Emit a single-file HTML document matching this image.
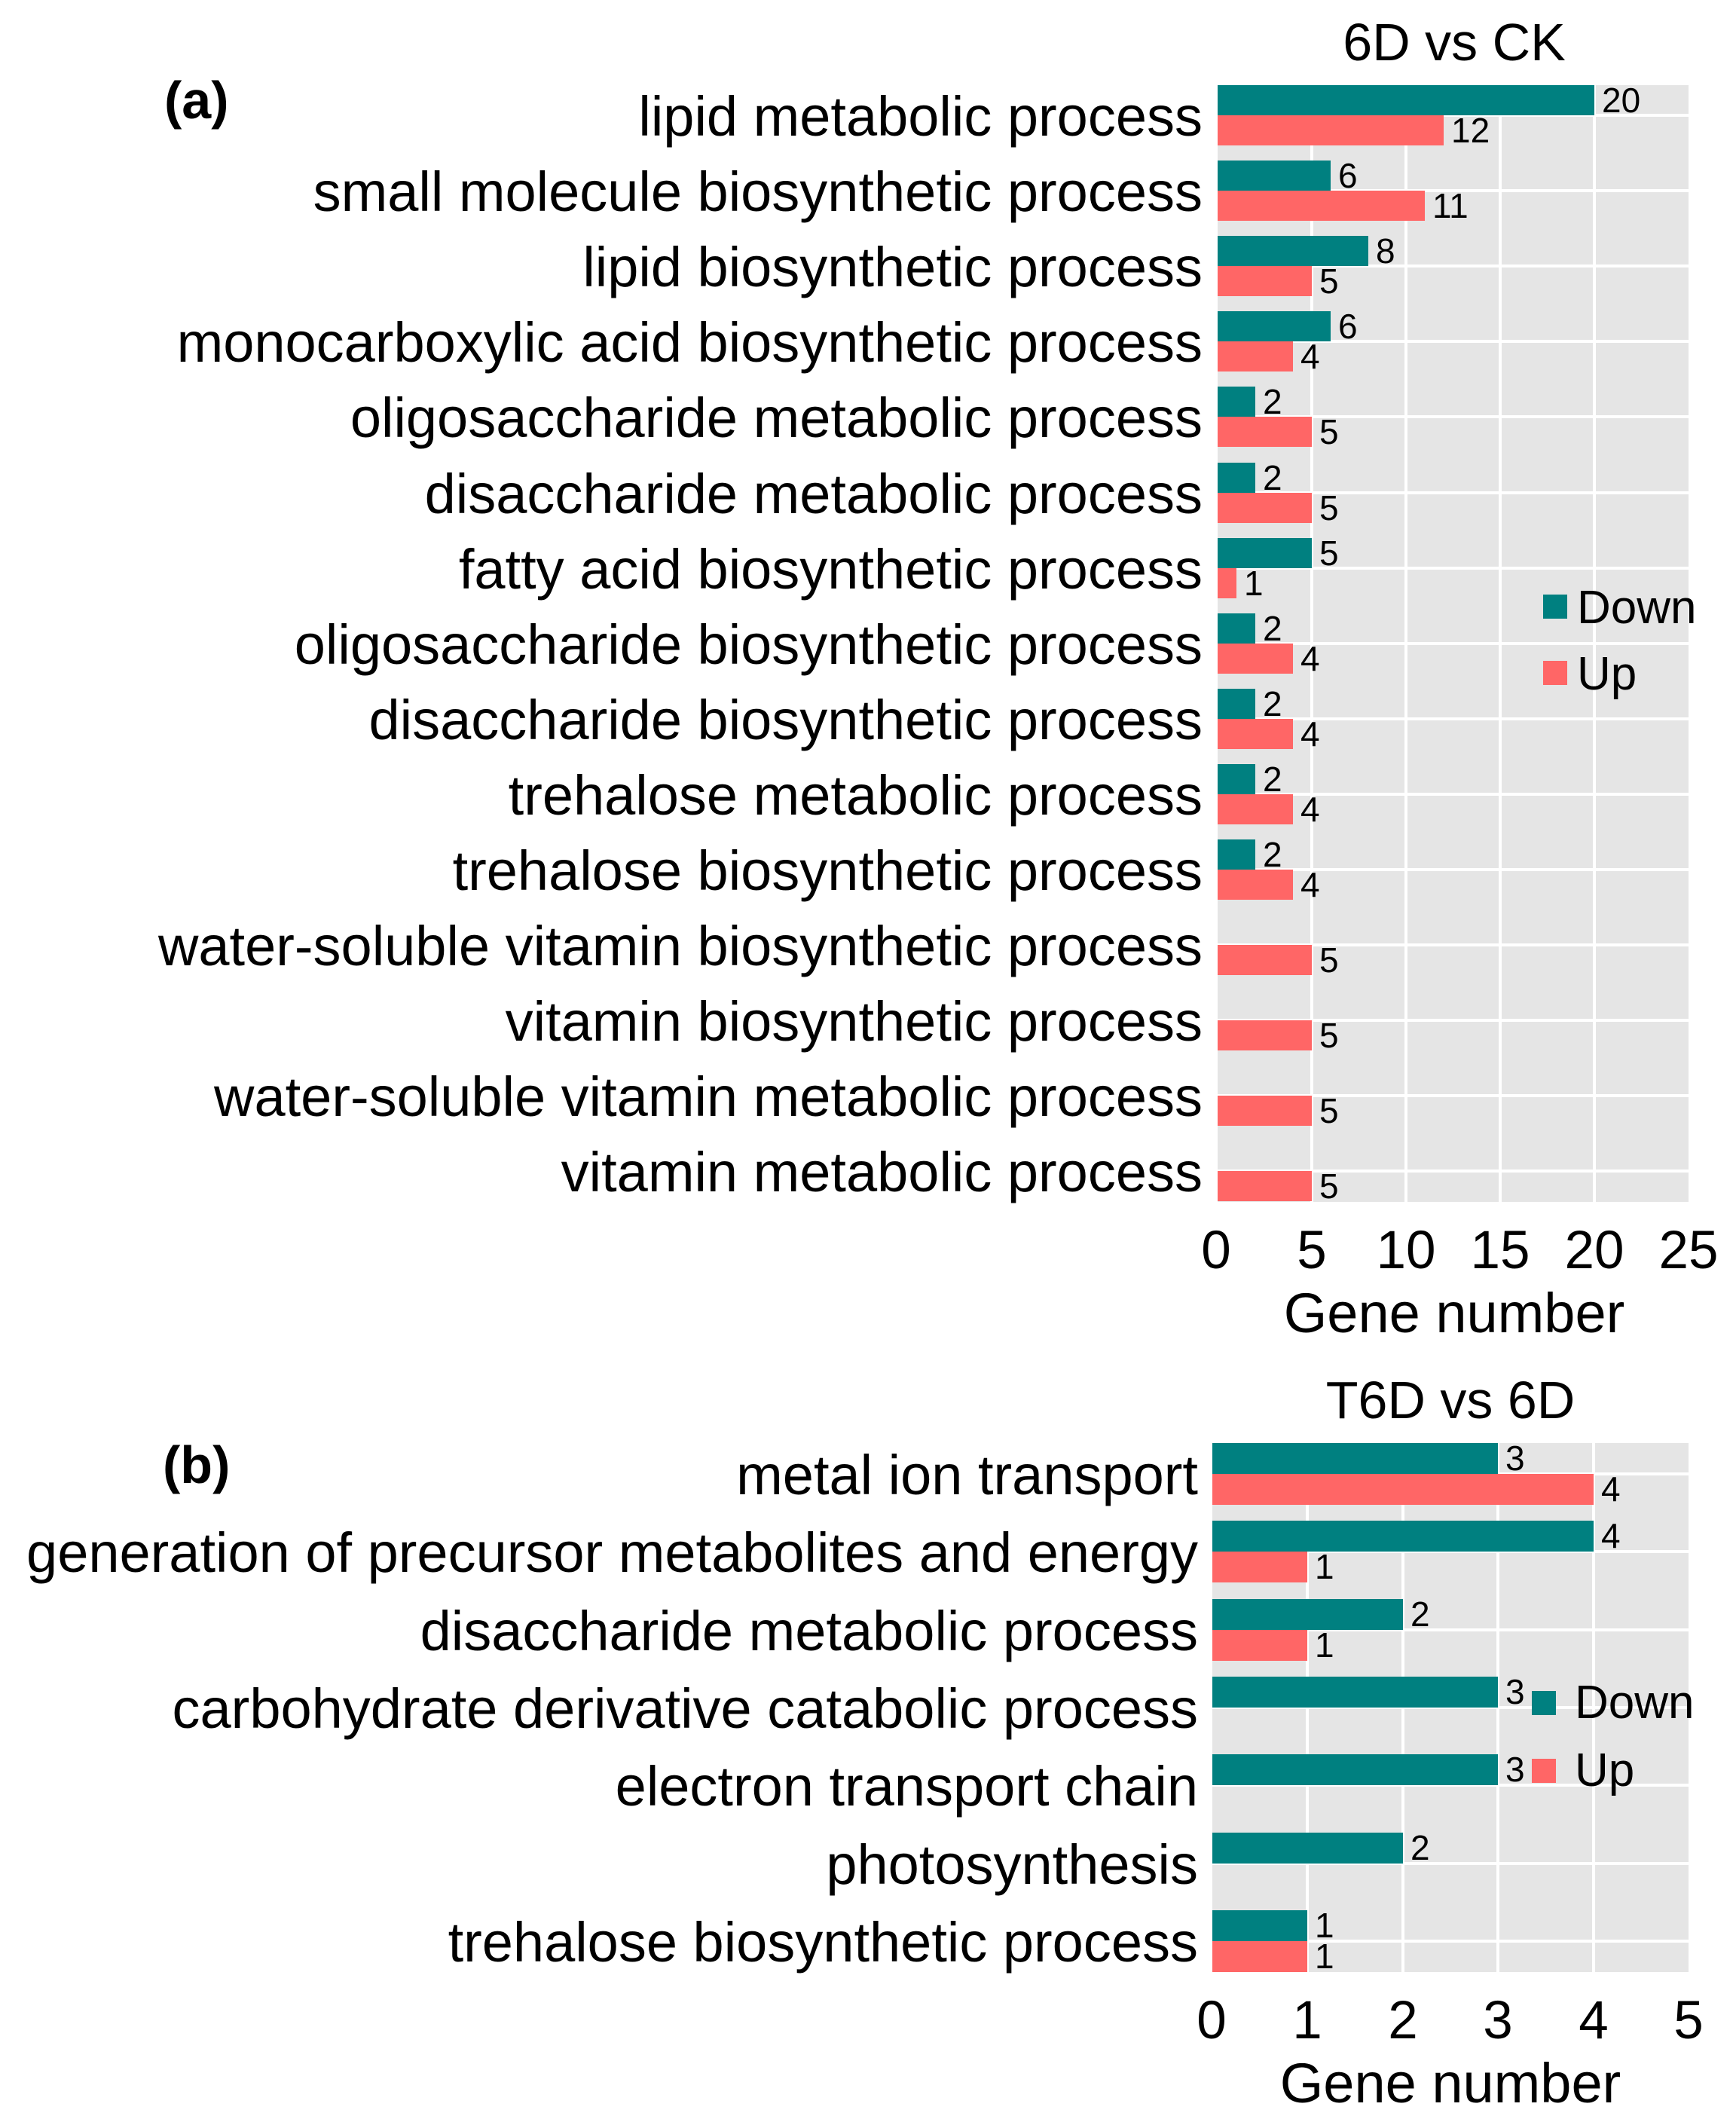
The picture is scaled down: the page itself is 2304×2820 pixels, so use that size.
<!DOCTYPE html>
<html><head><meta charset="utf-8"><style>html,body{margin:0;padding:0;background:#fff}svg{display:block}</style></head>
<body>
<svg width="2304" height="2820" viewBox="0 0 2304 2820" xmlns="http://www.w3.org/2000/svg" font-family="Liberation Sans, Arial, sans-serif">
<!-- Panel a -->
<rect x="1616" y="113" width="625" height="1482" fill="#e5e5e5"/>
<g stroke="#fff" stroke-width="4">
<line x1="1741" y1="113" x2="1741" y2="1595"/><line x1="1866" y1="113" x2="1866" y2="1595"/><line x1="1991" y1="113" x2="1991" y2="1595"/><line x1="2116" y1="113" x2="2116" y2="1595"/>
<line x1="1616" x2="2241" y1="153" y2="153"/><line x1="1616" x2="2241" y1="253" y2="253"/><line x1="1616" x2="2241" y1="353" y2="353"/><line x1="1616" x2="2241" y1="453" y2="453"/><line x1="1616" x2="2241" y1="553" y2="553"/><line x1="1616" x2="2241" y1="654" y2="654"/><line x1="1616" x2="2241" y1="754" y2="754"/><line x1="1616" x2="2241" y1="854" y2="854"/><line x1="1616" x2="2241" y1="954" y2="954"/><line x1="1616" x2="2241" y1="1054" y2="1054"/><line x1="1616" x2="2241" y1="1154" y2="1154"/><line x1="1616" x2="2241" y1="1254" y2="1254"/><line x1="1616" x2="2241" y1="1354" y2="1354"/><line x1="1616" x2="2241" y1="1454" y2="1454"/><line x1="1616" x2="2241" y1="1554" y2="1554"/>
</g>
<g fill="#008080">
<rect x="1616" y="113" width="500" height="40"/>
<rect x="1616" y="213" width="150" height="40"/>
<rect x="1616" y="313" width="200" height="40"/>
<rect x="1616" y="413" width="150" height="40"/>
<rect x="1616" y="513" width="50" height="40"/>
<rect x="1616" y="614" width="50" height="40"/>
<rect x="1616" y="714" width="125" height="40"/>
<rect x="1616" y="814" width="50" height="40"/>
<rect x="1616" y="914" width="50" height="40"/>
<rect x="1616" y="1014" width="50" height="40"/>
<rect x="1616" y="1114" width="50" height="40"/>
</g>
<g fill="#ff6666">
<rect x="1616" y="153" width="300" height="40"/>
<rect x="1616" y="253" width="275" height="40"/>
<rect x="1616" y="353" width="125" height="40"/>
<rect x="1616" y="453" width="100" height="40"/>
<rect x="1616" y="553" width="125" height="40"/>
<rect x="1616" y="654" width="125" height="40"/>
<rect x="1616" y="754" width="25" height="40"/>
<rect x="1616" y="854" width="100" height="40"/>
<rect x="1616" y="954" width="100" height="40"/>
<rect x="1616" y="1054" width="100" height="40"/>
<rect x="1616" y="1154" width="100" height="40"/>
<rect x="1616" y="1254" width="125" height="40"/>
<rect x="1616" y="1354" width="125" height="40"/>
<rect x="1616" y="1454" width="125" height="40"/>
<rect x="1616" y="1554" width="125" height="40"/>
</g>
<g font-size="46" fill="#000" dominant-baseline="central">
<text x="2126" y="133">20</text><text x="1926" y="173">12</text>
<text x="1776" y="233">6</text><text x="1901" y="273">11</text>
<text x="1826" y="333">8</text><text x="1751" y="373">5</text>
<text x="1776" y="433">6</text><text x="1726" y="473">4</text>
<text x="1676" y="533">2</text><text x="1751" y="573">5</text>
<text x="1676" y="634">2</text><text x="1751" y="674">5</text>
<text x="1751" y="734">5</text><text x="1651" y="774">1</text>
<text x="1676" y="834">2</text><text x="1726" y="874">4</text>
<text x="1676" y="934">2</text><text x="1726" y="974">4</text>
<text x="1676" y="1034">2</text><text x="1726" y="1074">4</text>
<text x="1676" y="1134">2</text><text x="1726" y="1174">4</text>
<text x="1751" y="1274">5</text><text x="1751" y="1374">5</text><text x="1751" y="1474">5</text><text x="1751" y="1574">5</text>
</g>
<g font-size="74" text-anchor="end" fill="#000">
<text x="1596" y="180">lipid metabolic process</text>
<text x="1596" y="280">small molecule biosynthetic process</text>
<text x="1596" y="380">lipid biosynthetic process</text>
<text x="1596" y="480">monocarboxylic acid biosynthetic process</text>
<text x="1596" y="580">oligosaccharide metabolic process</text>
<text x="1596" y="681">disaccharide metabolic process</text>
<text x="1596" y="781">fatty acid biosynthetic process</text>
<text x="1596" y="881">oligosaccharide biosynthetic process</text>
<text x="1596" y="981">disaccharide biosynthetic process</text>
<text x="1596" y="1081">trehalose metabolic process</text>
<text x="1596" y="1181">trehalose biosynthetic process</text>
<text x="1596" y="1281">water-soluble vitamin biosynthetic process</text>
<text x="1596" y="1381">vitamin biosynthetic process</text>
<text x="1596" y="1481">water-soluble vitamin metabolic process</text>
<text x="1596" y="1581">vitamin metabolic process</text>
</g>
<g font-size="71" text-anchor="middle" fill="#000">
<text x="1614" y="1683">0</text><text x="1741" y="1683">5</text><text x="1866" y="1683">10</text><text x="1991" y="1683">15</text><text x="2116" y="1683">20</text><text x="2241" y="1683">25</text>
</g>
<text x="1930" y="1768" font-size="74" text-anchor="middle">Gene number</text>
<text x="1930" y="80" font-size="70" text-anchor="middle">6D vs CK</text>
<rect x="2048" y="789" width="32" height="32" fill="#008080"/>
<rect x="2048" y="877" width="32" height="32" fill="#ff6666"/>
<text x="2093" y="827" font-size="62">Down</text>
<text x="2093" y="915" font-size="62">Up</text>
<text x="218" y="157" font-size="70" font-weight="bold">(a)</text>

<!-- Panel b -->
<rect x="1609" y="1915" width="632" height="702" fill="#e5e5e5"/>
<g stroke="#fff" stroke-width="4">
<line x1="1735" y1="1915" x2="1735" y2="2617"/><line x1="1862" y1="1915" x2="1862" y2="2617"/><line x1="1988" y1="1915" x2="1988" y2="2617"/><line x1="2115" y1="1915" x2="2115" y2="2617"/>
<line x1="1609" x2="2241" y1="1956" y2="1956"/><line x1="1609" x2="2241" y1="2059" y2="2059"/><line x1="1609" x2="2241" y1="2163" y2="2163"/><line x1="1609" x2="2241" y1="2266" y2="2266"/><line x1="1609" x2="2241" y1="2369" y2="2369"/><line x1="1609" x2="2241" y1="2473" y2="2473"/><line x1="1609" x2="2241" y1="2576" y2="2576"/>
</g>
<g fill="#008080">
<rect x="1609" y="1915" width="379" height="41"/>
<rect x="1609" y="2018" width="506" height="41"/>
<rect x="1609" y="2122" width="253" height="41"/>
<rect x="1609" y="2225" width="379" height="41"/>
<rect x="1609" y="2328" width="379" height="41"/>
<rect x="1609" y="2432" width="253" height="41"/>
<rect x="1609" y="2535" width="126" height="41"/>
</g>
<g fill="#ff6666">
<rect x="1609" y="1956" width="506" height="41"/>
<rect x="1609" y="2059" width="126" height="41"/>
<rect x="1609" y="2163" width="126" height="41"/>
<rect x="1609" y="2576" width="126" height="41"/>
</g>
<g font-size="46" fill="#000" dominant-baseline="central">
<text x="1998" y="1935">3</text><text x="2125" y="1976">4</text>
<text x="2125" y="2038">4</text><text x="1745" y="2079">1</text>
<text x="1872" y="2142">2</text><text x="1745" y="2183">1</text>
<text x="1998" y="2245">3</text>
<text x="1998" y="2348">3</text>
<text x="1872" y="2452">2</text>
<text x="1745" y="2555">1</text><text x="1745" y="2596">1</text>
</g>
<g font-size="74" text-anchor="end" fill="#000">
<text x="1590" y="1983">metal ion transport</text>
<text x="1590" y="2086">generation of precursor metabolites and energy</text>
<text x="1590" y="2190">disaccharide metabolic process</text>
<text x="1590" y="2293">carbohydrate derivative catabolic process</text>
<text x="1590" y="2396">electron transport chain</text>
<text x="1590" y="2500">photosynthesis</text>
<text x="1590" y="2603">trehalose biosynthetic process</text>
</g>
<g font-size="71" text-anchor="middle" fill="#000">
<text x="1608" y="2705">0</text><text x="1735" y="2705">1</text><text x="1862" y="2705">2</text><text x="1988" y="2705">3</text><text x="2115" y="2705">4</text><text x="2241" y="2705">5</text>
</g>
<text x="1925" y="2790" font-size="74" text-anchor="middle">Gene number</text>
<text x="1925" y="1882" font-size="70" text-anchor="middle">T6D vs 6D</text>
<rect x="2033" y="2244" width="32" height="32" fill="#008080"/>
<rect x="2033" y="2334" width="32" height="32" fill="#ff6666"/>
<text x="2090" y="2280" font-size="62">Down</text>
<text x="2090" y="2370" font-size="62">Up</text>
<text x="216" y="1968" font-size="70" font-weight="bold">(b)</text>
</svg>
</body></html>
